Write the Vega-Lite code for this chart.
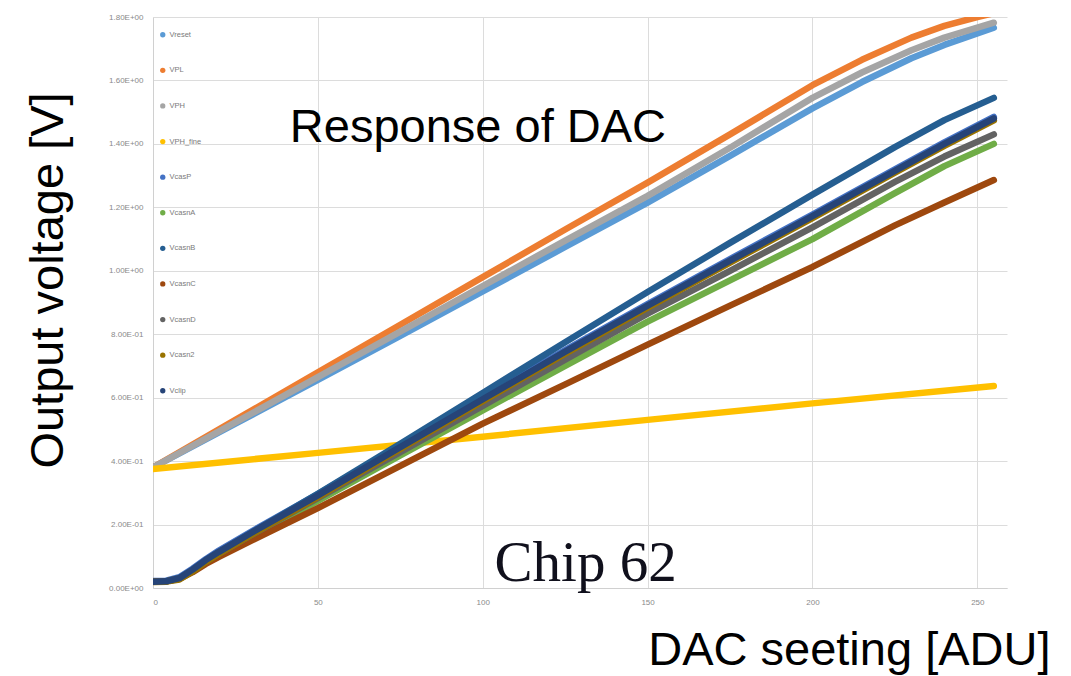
{
  "$schema": "https://vega.github.io/schema/vega-lite/v6.json",
  "autosize": "none",
  "width": 854,
  "height": 571,
  "padding": {"left": 153, "top": 17, "right": 64, "bottom": 88},
  "background": "white",
  "config": {"view": {"stroke": null}, "font": "Liberation Sans"},
  "data": {
    "values": [
      {"s": "Vreset", "x": 0, "v": 0.38}, {"s": "Vreset", "x": 25, "v": 0.518}, {"s": "Vreset", "x": 50, "v": 0.656}, {"s": "Vreset", "x": 75, "v": 0.795}, {"s": "Vreset", "x": 100, "v": 0.935}, {"s": "Vreset", "x": 125, "v": 1.075}, {"s": "Vreset", "x": 150, "v": 1.215}, {"s": "Vreset", "x": 175, "v": 1.362}, {"s": "Vreset", "x": 200, "v": 1.512}, {"s": "Vreset", "x": 215, "v": 1.595}, {"s": "Vreset", "x": 230, "v": 1.67}, {"s": "Vreset", "x": 240, "v": 1.712}, {"s": "Vreset", "x": 255, "v": 1.766},
      {"s": "VPL", "x": 0, "v": 0.38}, {"s": "VPL", "x": 25, "v": 0.53}, {"s": "VPL", "x": 50, "v": 0.68}, {"s": "VPL", "x": 75, "v": 0.83}, {"s": "VPL", "x": 100, "v": 0.98}, {"s": "VPL", "x": 125, "v": 1.13}, {"s": "VPL", "x": 150, "v": 1.278}, {"s": "VPL", "x": 175, "v": 1.43}, {"s": "VPL", "x": 200, "v": 1.585}, {"s": "VPL", "x": 215, "v": 1.665}, {"s": "VPL", "x": 230, "v": 1.735}, {"s": "VPL", "x": 240, "v": 1.772}, {"s": "VPL", "x": 250, "v": 1.8}, {"s": "VPL", "x": 255, "v": 1.812},
      {"s": "VPH", "x": 0, "v": 0.38}, {"s": "VPH", "x": 25, "v": 0.522}, {"s": "VPH", "x": 50, "v": 0.665}, {"s": "VPH", "x": 75, "v": 0.808}, {"s": "VPH", "x": 100, "v": 0.952}, {"s": "VPH", "x": 125, "v": 1.095}, {"s": "VPH", "x": 150, "v": 1.236}, {"s": "VPH", "x": 175, "v": 1.388}, {"s": "VPH", "x": 200, "v": 1.545}, {"s": "VPH", "x": 215, "v": 1.625}, {"s": "VPH", "x": 230, "v": 1.695}, {"s": "VPH", "x": 240, "v": 1.735}, {"s": "VPH", "x": 255, "v": 1.782},
      {"s": "VPH_fine", "x": 0, "v": 0.375}, {"s": "VPH_fine", "x": 50, "v": 0.426}, {"s": "VPH_fine", "x": 100, "v": 0.477}, {"s": "VPH_fine", "x": 150, "v": 0.53}, {"s": "VPH_fine", "x": 200, "v": 0.582}, {"s": "VPH_fine", "x": 255, "v": 0.637},
      {"s": "VcasP", "x": 0, "v": 0.022}, {"s": "VcasP", "x": 4, "v": 0.023}, {"s": "VcasP", "x": 8, "v": 0.034}, {"s": "VcasP", "x": 12, "v": 0.061}, {"s": "VcasP", "x": 16, "v": 0.091}, {"s": "VcasP", "x": 20, "v": 0.118}, {"s": "VcasP", "x": 30, "v": 0.179}, {"s": "VcasP", "x": 50, "v": 0.296}, {"s": "VcasP", "x": 75, "v": 0.449}, {"s": "VcasP", "x": 100, "v": 0.6}, {"s": "VcasP", "x": 125, "v": 0.75}, {"s": "VcasP", "x": 150, "v": 0.895}, {"s": "VcasP", "x": 175, "v": 1.037}, {"s": "VcasP", "x": 200, "v": 1.177}, {"s": "VcasP", "x": 225, "v": 1.32}, {"s": "VcasP", "x": 240, "v": 1.405}, {"s": "VcasP", "x": 255, "v": 1.485},
      {"s": "VcasnA", "x": 0, "v": 0.02}, {"s": "VcasnA", "x": 4, "v": 0.021}, {"s": "VcasnA", "x": 8, "v": 0.03}, {"s": "VcasnA", "x": 12, "v": 0.053}, {"s": "VcasnA", "x": 16, "v": 0.081}, {"s": "VcasnA", "x": 20, "v": 0.105}, {"s": "VcasnA", "x": 30, "v": 0.163}, {"s": "VcasnA", "x": 50, "v": 0.275}, {"s": "VcasnA", "x": 75, "v": 0.418}, {"s": "VcasnA", "x": 100, "v": 0.56}, {"s": "VcasnA", "x": 125, "v": 0.7}, {"s": "VcasnA", "x": 150, "v": 0.84}, {"s": "VcasnA", "x": 175, "v": 0.97}, {"s": "VcasnA", "x": 200, "v": 1.1}, {"s": "VcasnA", "x": 225, "v": 1.245}, {"s": "VcasnA", "x": 240, "v": 1.33}, {"s": "VcasnA", "x": 255, "v": 1.4},
      {"s": "VcasnB", "x": 0, "v": 0.02}, {"s": "VcasnB", "x": 4, "v": 0.021}, {"s": "VcasnB", "x": 8, "v": 0.031}, {"s": "VcasnB", "x": 12, "v": 0.057}, {"s": "VcasnB", "x": 16, "v": 0.087}, {"s": "VcasnB", "x": 20, "v": 0.113}, {"s": "VcasnB", "x": 30, "v": 0.175}, {"s": "VcasnB", "x": 50, "v": 0.297}, {"s": "VcasnB", "x": 75, "v": 0.455}, {"s": "VcasnB", "x": 100, "v": 0.615}, {"s": "VcasnB", "x": 125, "v": 0.775}, {"s": "VcasnB", "x": 150, "v": 0.933}, {"s": "VcasnB", "x": 175, "v": 1.088}, {"s": "VcasnB", "x": 200, "v": 1.24}, {"s": "VcasnB", "x": 225, "v": 1.39}, {"s": "VcasnB", "x": 240, "v": 1.475}, {"s": "VcasnB", "x": 255, "v": 1.545},
      {"s": "VcasnC", "x": 0, "v": 0.02}, {"s": "VcasnC", "x": 4, "v": 0.021}, {"s": "VcasnC", "x": 8, "v": 0.029}, {"s": "VcasnC", "x": 12, "v": 0.05}, {"s": "VcasnC", "x": 16, "v": 0.076}, {"s": "VcasnC", "x": 20, "v": 0.098}, {"s": "VcasnC", "x": 30, "v": 0.15}, {"s": "VcasnC", "x": 50, "v": 0.252}, {"s": "VcasnC", "x": 75, "v": 0.385}, {"s": "VcasnC", "x": 100, "v": 0.518}, {"s": "VcasnC", "x": 125, "v": 0.642}, {"s": "VcasnC", "x": 150, "v": 0.767}, {"s": "VcasnC", "x": 175, "v": 0.89}, {"s": "VcasnC", "x": 200, "v": 1.012}, {"s": "VcasnC", "x": 225, "v": 1.143}, {"s": "VcasnC", "x": 240, "v": 1.215}, {"s": "VcasnC", "x": 255, "v": 1.286},
      {"s": "VcasnD", "x": 0, "v": 0.02}, {"s": "VcasnD", "x": 4, "v": 0.021}, {"s": "VcasnD", "x": 8, "v": 0.03}, {"s": "VcasnD", "x": 12, "v": 0.054}, {"s": "VcasnD", "x": 16, "v": 0.083}, {"s": "VcasnD", "x": 20, "v": 0.108}, {"s": "VcasnD", "x": 30, "v": 0.168}, {"s": "VcasnD", "x": 50, "v": 0.283}, {"s": "VcasnD", "x": 75, "v": 0.428}, {"s": "VcasnD", "x": 100, "v": 0.574}, {"s": "VcasnD", "x": 125, "v": 0.72}, {"s": "VcasnD", "x": 150, "v": 0.865}, {"s": "VcasnD", "x": 175, "v": 1.0}, {"s": "VcasnD", "x": 200, "v": 1.137}, {"s": "VcasnD", "x": 225, "v": 1.28}, {"s": "VcasnD", "x": 240, "v": 1.36}, {"s": "VcasnD", "x": 255, "v": 1.43},
      {"s": "Vcasn2", "x": 0, "v": 0.019}, {"s": "Vcasn2", "x": 4, "v": 0.02}, {"s": "Vcasn2", "x": 8, "v": 0.027}, {"s": "Vcasn2", "x": 12, "v": 0.052}, {"s": "Vcasn2", "x": 16, "v": 0.082}, {"s": "Vcasn2", "x": 20, "v": 0.108}, {"s": "Vcasn2", "x": 30, "v": 0.169}, {"s": "Vcasn2", "x": 50, "v": 0.286}, {"s": "Vcasn2", "x": 75, "v": 0.438}, {"s": "Vcasn2", "x": 100, "v": 0.589}, {"s": "Vcasn2", "x": 125, "v": 0.739}, {"s": "Vcasn2", "x": 150, "v": 0.884}, {"s": "Vcasn2", "x": 175, "v": 1.026}, {"s": "Vcasn2", "x": 200, "v": 1.166}, {"s": "Vcasn2", "x": 225, "v": 1.309}, {"s": "Vcasn2", "x": 240, "v": 1.394}, {"s": "Vcasn2", "x": 255, "v": 1.474},
      {"s": "Vclip", "x": 0, "v": 0.02}, {"s": "Vclip", "x": 4, "v": 0.021}, {"s": "Vclip", "x": 8, "v": 0.031}, {"s": "Vclip", "x": 12, "v": 0.058}, {"s": "Vclip", "x": 16, "v": 0.088}, {"s": "Vclip", "x": 20, "v": 0.114}, {"s": "Vclip", "x": 30, "v": 0.175}, {"s": "Vclip", "x": 50, "v": 0.292}, {"s": "Vclip", "x": 75, "v": 0.444}, {"s": "Vclip", "x": 100, "v": 0.595}, {"s": "Vclip", "x": 125, "v": 0.745}, {"s": "Vclip", "x": 150, "v": 0.89}, {"s": "Vclip", "x": 175, "v": 1.032}, {"s": "Vclip", "x": 200, "v": 1.172}, {"s": "Vclip", "x": 225, "v": 1.315}, {"s": "Vclip", "x": 240, "v": 1.4}, {"s": "Vclip", "x": 255, "v": 1.48}
    ]
  },
  "layer": [
    {
      "mark": {"type": "line", "strokeWidth": 6.5, "strokeCap": "round", "strokeJoin": "round", "clip": true},
      "encoding": {
        "x": {
          "field": "x", "type": "quantitative",
          "scale": {"domain": [0, 259], "nice": false, "zero": false},
          "axis": {
            "values": [0, 50, 100, 150, 200, 250],
            "grid": true, "gridColor": "#dcdcdc", "gridWidth": 1,
            "domainColor": "#d0d0d0", "ticks": false,
            "labelFontSize": 8, "labelColor": "#8a8a8a", "labelPadding": 10,
            "title": "DAC seeting [ADU]", "titleFontSize": 47, "titleFontWeight": "normal", "titleColor": "#000000",
            "titleFont": "Liberation Sans", "titleAlign": "right", "titleAnchor": "start",
            "titleX": 897, "titleY": 76, "titleBaseline": "alphabetic"
          }
        },
        "y": {
          "field": "v", "type": "quantitative",
          "scale": {"domain": [0, 1.8], "nice": false},
          "axis": {
            "values": [0, 0.2, 0.4, 0.6, 0.8, 1.0, 1.2, 1.4, 1.6, 1.8],
            "grid": true, "gridColor": "#dcdcdc", "gridWidth": 1,
            "domainColor": "#d0d0d0", "ticks": false,
            "labelFontSize": 8, "labelColor": "#8a8a8a", "labelPadding": 10,
            "labelExpr": "datum.value == 0 ? '0.00E+00' : format(datum.value / pow(10, floor(log(datum.value) / LN10 + 1e-9)), '.2f') + 'E' + (floor(log(datum.value) / LN10 + 1e-9) < 0 ? '-' : '+') + '0' + abs(floor(log(datum.value) / LN10 + 1e-9))",
            "title": "Output voltage [V]", "titleFontSize": 47, "titleFontWeight": "normal", "titleColor": "#000000",
            "titleFont": "Liberation Sans", "titleAngle": -90, "titleAlign": "center", "titleAnchor": "start",
            "titleX": -91, "titleY": 263, "titleBaseline": "alphabetic"
          }
        },
        "color": {
          "field": "s", "type": "nominal",
          "scale": {
            "domain": ["Vreset", "VPL", "VPH", "VPH_fine", "VcasP", "VcasnA", "VcasnB", "VcasnC", "VcasnD", "Vcasn2", "Vclip"],
            "range": ["#5B9BD5", "#ED7D31", "#A5A5A5", "#FFC000", "#4472C4", "#70AD47", "#255E91", "#9E480E", "#636363", "#997300", "#264478"]
          },
          "legend": {
            "orient": "none", "legendX": 6, "legendY": 14, "direction": "vertical", "title": null,
            "symbolType": "circle", "symbolSize": 28, "symbolStrokeWidth": 0,
            "labelFontSize": 7.5, "labelColor": "#7a7a7a", "labelOffset": 3, "rowPadding": 26.6, "padding": 0,
            "encode": {"symbols": {"update": {"fill": {"field": "value", "scale": "color"}, "fillOpacity": {"value": 1}}}}
          }
        }
      }
    },
    {
      "data": {"values": [{"label": "Response of DAC"}]},
      "mark": {"type": "text", "fontSize": 47, "font": "Liberation Sans", "align": "left", "baseline": "alphabetic", "color": "#000000"},
      "encoding": {"text": {"field": "label"}, "x": {"datum": 41.5, "type": "quantitative"}, "y": {"datum": 1.406, "type": "quantitative"}}
    },
    {
      "data": {"values": [{"label": "Chip 62"}]},
      "mark": {"type": "text", "fontSize": 57, "font": "Liberation Serif", "align": "left", "baseline": "alphabetic", "color": "#10101c"},
      "encoding": {"text": {"field": "label"}, "x": {"datum": 103.6, "type": "quantitative"}, "y": {"datum": 0.022, "type": "quantitative"}}
    }
  ]
}
